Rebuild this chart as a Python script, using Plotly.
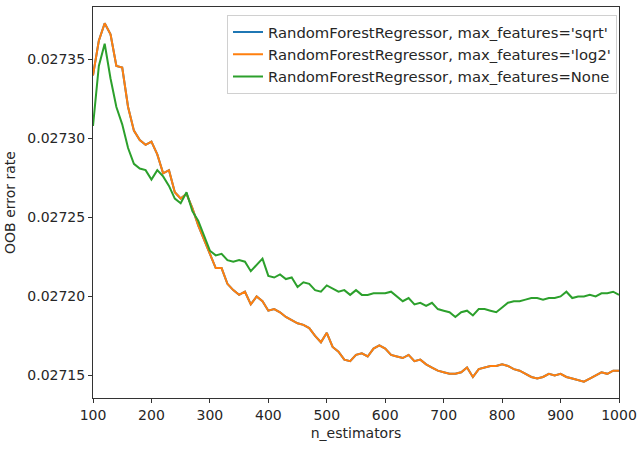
import plotly.graph_objects as go

n_estimators = list(range(100, 1001, 10))

error_log2 = [
    0.027340, 0.027362, 0.027373, 0.027366, 0.027346, 0.027345, 0.027320, 0.027305, 0.027299, 0.027296,
    0.027298, 0.027290, 0.027278, 0.027280, 0.027266, 0.027262, 0.027265, 0.027256, 0.027245, 0.027236,
    0.027226, 0.027218, 0.027218, 0.027208, 0.027204, 0.027201, 0.027203, 0.027195, 0.027200, 0.027197,
    0.027191, 0.027192, 0.027190, 0.027187, 0.027185, 0.027183, 0.027182, 0.027180, 0.027175, 0.027171,
    0.027177, 0.027168, 0.027165, 0.027160, 0.027159, 0.027163, 0.027164, 0.027162, 0.027167, 0.027169,
    0.027167, 0.027163, 0.027162, 0.027161, 0.027163, 0.027159, 0.027160, 0.027157, 0.027155, 0.027153,
    0.027152, 0.027151, 0.027151, 0.027152, 0.027155, 0.027149, 0.027154, 0.027155, 0.027156, 0.027156,
    0.027157, 0.027156, 0.027154, 0.027153, 0.027151, 0.027149, 0.027148, 0.027149, 0.027151, 0.027150,
    0.027151, 0.027149, 0.027148, 0.027147, 0.027146, 0.027148, 0.027150, 0.027152, 0.027151, 0.027153,
    0.027153,
]

# The 'sqrt' curve is completely hidden under the 'log2' curve in the picture
error_sqrt = list(error_log2)

error_none = [
    0.027308, 0.027346, 0.027360, 0.027338, 0.027320, 0.027309, 0.027294, 0.027284, 0.027281, 0.027280,
    0.027274, 0.027280, 0.027276, 0.027270, 0.027262, 0.027259, 0.027266, 0.027254, 0.027248, 0.027238,
    0.027229, 0.027226, 0.027227, 0.027223, 0.027222, 0.027223, 0.027222, 0.027216, 0.027220, 0.027224,
    0.027213, 0.027212, 0.027214, 0.027211, 0.027212, 0.027206, 0.027209, 0.027208, 0.027204, 0.027203,
    0.027207, 0.027205, 0.027203, 0.027204, 0.027201, 0.027204, 0.027201, 0.027201, 0.027202, 0.027202,
    0.027202, 0.027203, 0.027200, 0.027197, 0.027199, 0.027195, 0.027196, 0.027194, 0.027196, 0.027192,
    0.027191, 0.027190, 0.027187, 0.027190, 0.027191, 0.027188, 0.027192, 0.027192, 0.027191, 0.027190,
    0.027193, 0.027196, 0.027197, 0.027197, 0.027198, 0.027199, 0.027199, 0.027198, 0.027199, 0.027199,
    0.027200, 0.027203, 0.027199, 0.027200, 0.027200, 0.027201, 0.027200, 0.027202, 0.027202, 0.027203,
    0.027201,
]

series_names = [
    "RandomForestRegressor, max_features='sqrt'",
    "RandomForestRegressor, max_features='log2'",
    "RandomForestRegressor, max_features=None",
]
series_values = [error_sqrt, error_log2, error_none]
series_colors = ["#1f77b4", "#ff7f0e", "#2ca02c"]

x_ticks = list(range(100, 1001, 100))
y_ticks = [0.02715, 0.02720, 0.02725, 0.02730, 0.02735]

fig = go.Figure()
for name, vals, col in zip(series_names, series_values, series_colors):
    fig.add_trace(go.Scatter(
        x=n_estimators, y=vals, mode="lines", name=name,
        line=dict(color=col, width=2),
    ))

font_family = "DejaVu Sans, sans-serif"
axis_common = dict(
    showline=True, linecolor="#333333", linewidth=1, mirror=True,
    ticks="outside", ticklen=4, tickcolor="#333333", tickwidth=1,
    showgrid=False, zeroline=False, automargin=False,
    tickfont=dict(family=font_family, size=14, color="#262626"),
)

fig.update_layout(
    width=640, height=451,
    margin=dict(l=93, r=21, t=7, b=53),
    paper_bgcolor="white", plot_bgcolor="white",
    font=dict(family=font_family, size=14, color="#262626"),
    showlegend=True,
    legend=dict(
        x=0.9962, y=0.98, xanchor="right", yanchor="top",
        bgcolor="rgba(255,255,255,0.8)", bordercolor="#d0d0d0", borderwidth=1,
        font=dict(family=font_family, size=14.8, color="#262626"),
        itemwidth=30,
    ),
    xaxis=dict(
        range=[100, 1000], tickvals=x_ticks,
        title=dict(text="n_estimators", font=dict(family=font_family, size=14), standoff=6),
        **axis_common,
    ),
    yaxis=dict(
        range=[0.0271357, 0.0273833], tickvals=y_ticks, tickformat=".5f",
        title=dict(text="OOB error rate", font=dict(family=font_family, size=14), standoff=8),
        **axis_common,
    ),
)

fig.write_html(
    "out.html",
    config={"displayModeBar": False},
    post_script="document.body.style.margin='0px';",
)
